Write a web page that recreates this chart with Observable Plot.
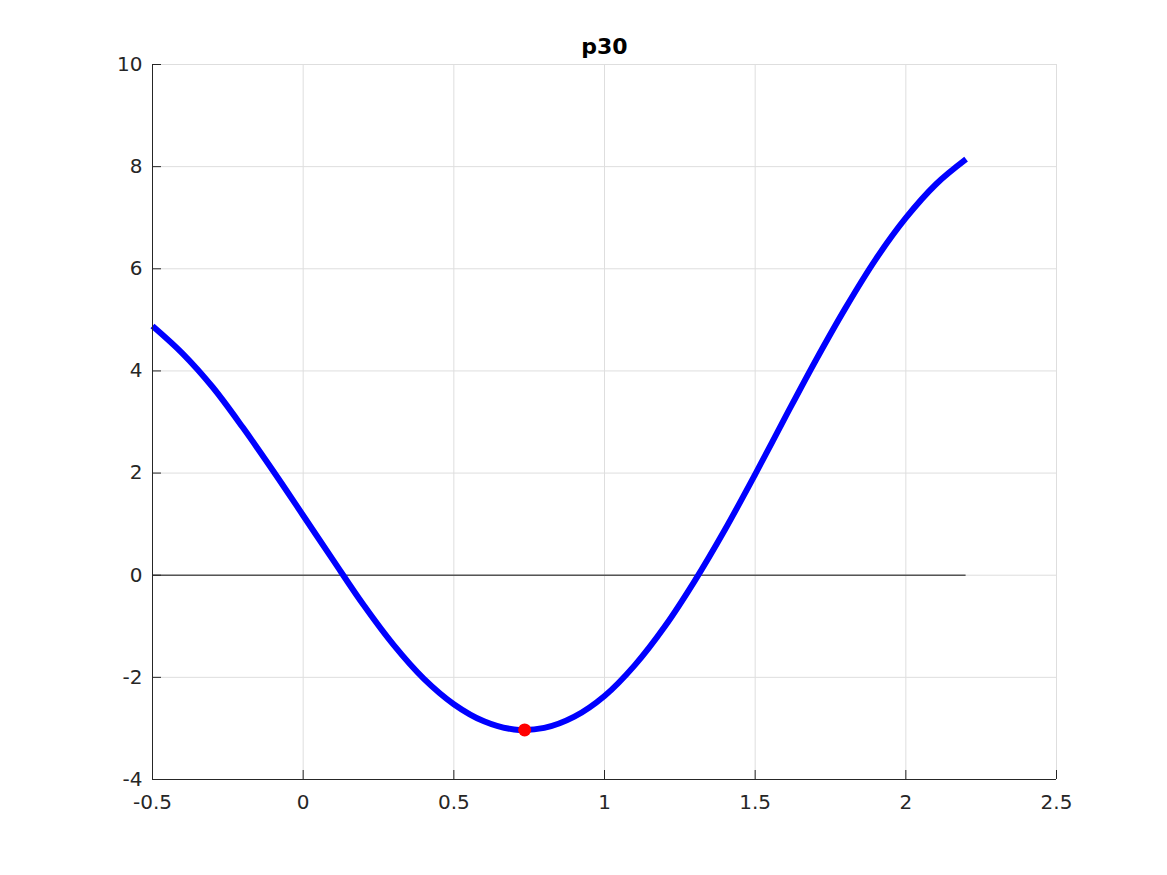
<!DOCTYPE html>
<html>
<head>
<meta charset="utf-8">
<script src="https://cdn.jsdelivr.net/npm/d3@7"></script>
<script src="https://cdn.jsdelivr.net/npm/@observablehq/plot@0.6"></script>
<style>
  html, body { margin: 0; padding: 0; background: #fff; }
  #chart { width: 1167px; height: 875px; }
</style>
</head>
<body>
<div id="chart"></div>
<script>
const titleText = "p30";
const xTicks = [-0.5, 0, 0.5, 1, 1.5, 2, 2.5];
const yTicks = [-4, -2, 0, 2, 4, 6, 8, 10];
const curveX = [-0.5, -0.4, -0.3, -0.2, -0.1, 0, 0.1, 0.2, 0.3, 0.4, 0.5, 0.6, 0.7, 0.8, 0.9, 1.0, 1.1, 1.2, 1.3, 1.4, 1.5, 1.6, 1.7, 1.8, 1.9, 2.0, 2.1, 2.2];
const curveY = [4.88, 4.34, 3.68, 2.89, 2.045, 1.17, 0.29, -0.58, -1.365, -2.025, -2.525, -2.86, -3.02, -2.99, -2.77, -2.365, -1.765, -1.005, -0.105, 0.895, 1.975, 3.095, 4.195, 5.235, 6.185, 6.995, 7.655, 8.145];
const minPointX = [0.735];
const minPointY = [-3.03];
const zeroLineRange = [-0.5, 2.2];

const curve = curveX.map((x, i) => ({x, y: curveY[i]}));
const minPoint = minPointX.map((x, i) => ({x, y: minPointY[i]}));
const fmt = d => String(d);
const axisColor = "#262626";

const chart = Plot.plot({
  width: 1167,
  height: 875,
  marginLeft: 152,
  marginRight: 111,
  marginTop: 64,
  marginBottom: 96,
  style: {fontFamily: "'DejaVu Sans', sans-serif", background: "#fff"},
  x: {domain: [-0.5, 2.5]},
  y: {domain: [-4, 10]},
  marks: [
    Plot.gridX(xTicks, {stroke: "#dedede", strokeOpacity: 1}),
    Plot.gridY(yTicks, {stroke: "#dedede", strokeOpacity: 1}),
    Plot.ruleY([0], {x1: () => zeroLineRange[0], x2: () => zeroLineRange[1], stroke: "#555", strokeWidth: 1.4}),
    Plot.line(curve, {x: "x", y: "y", stroke: "#0000ff", strokeWidth: 6, curve: "catmull-rom", strokeLinecap: "butt"}),
    Plot.dot(minPoint, {x: "x", y: "y", r: 6.5, fill: "#ff0000", stroke: "none"}),
    Plot.ruleY([-4], {stroke: axisColor, strokeWidth: 1}),
    Plot.ruleX([-0.5], {stroke: axisColor, strokeWidth: 1}),
    Plot.ruleX(xTicks, {x: d => d, y1: () => -4, y2: () => -4, insetBottom: 9, stroke: axisColor}),
    Plot.ruleY(yTicks, {y: d => d, x1: () => -0.5, x2: () => -0.5, insetLeft: 9, stroke: axisColor}),
    Plot.axisX(xTicks, {tickSize: 0, tickPadding: 15, tickFormat: fmt, fontSize: 20, fill: axisColor, label: null}),
    Plot.axisY(yTicks, {tickSize: 0, tickPadding: 10, tickFormat: fmt, fontSize: 20, fill: axisColor, label: null}),
    Plot.text([titleText], {text: d => d, frameAnchor: "top", lineAnchor: "bottom", dy: -10.5, fontSize: 22, fontWeight: "bold", fill: "#000"})
  ]
});
document.getElementById("chart").appendChild(chart);
</script>
</body>
</html>
